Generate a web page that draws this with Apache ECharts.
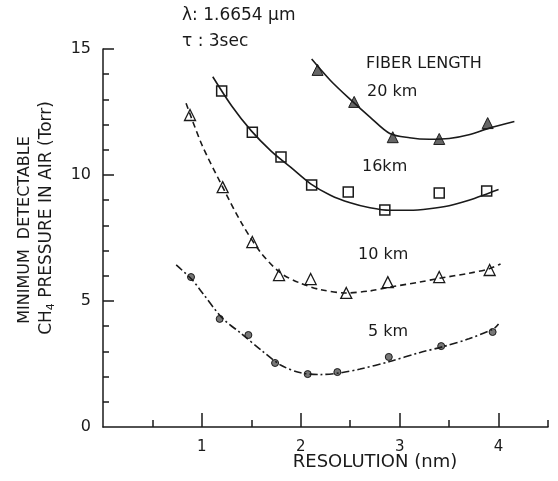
<!DOCTYPE html>
<html>
<head>
<meta charset="utf-8">
<script src="https://cdn.jsdelivr.net/npm/echarts@6/dist/echarts.min.js"></script>
<style>
  html, body { margin: 0; padding: 0; background: #fff; }
  #chart { width: 558px; height: 481px; }
</style>
</head>
<body>
<div id="chart"></div>
<script>
// measured points (resolution nm, pressure Torr)
const km20Points = [[2.17, 14.17], [2.54, 12.9], [2.93, 11.5], [3.40, 11.43], [3.89, 12.06]]
const km16Points = [[1.20, 13.33], [1.51, 11.7], [1.80, 10.71], [2.11, 9.6], [2.48, 9.33], [2.85, 8.61], [3.40, 9.29], [3.88, 9.37]]
const km10Points = [[0.88, 12.38], [1.21, 9.52], [1.51, 7.34], [1.78, 6.03], [2.10, 5.87], [2.46, 5.32], [2.88, 5.75], [3.40, 5.95], [3.91, 6.23]]
const km5Points = [[0.89, 5.95], [1.18, 4.29], [1.47, 3.65], [1.74, 2.54], [2.07, 2.10], [2.37, 2.18], [2.89, 2.78], [3.42, 3.21], [3.94, 3.77]]

// fitted curves
const km20Curve = [[2.11, 14.6], [2.3, 13.75], [2.5, 13.0], [2.7, 12.3], [2.9, 11.65], [3.1, 11.48], [3.3, 11.42], [3.5, 11.45], [3.7, 11.6], [3.9, 11.85], [4.16, 12.12]]
const km16Curve = [[1.11, 13.9], [1.3, 12.75], [1.5, 11.75], [1.7, 10.95], [1.9, 10.3], [2.1, 9.65], [2.3, 9.2], [2.5, 8.9], [2.7, 8.7], [2.9, 8.6], [3.1, 8.6], [3.3, 8.66], [3.5, 8.78], [3.7, 9.0], [3.9, 9.28], [4.0, 9.42]]
const km10Curve = [[0.84, 12.85], [1.0, 11.2], [1.2, 9.6], [1.4, 8.1], [1.6, 6.9], [1.8, 6.1], [2.0, 5.7], [2.2, 5.45], [2.46, 5.32], [2.7, 5.4], [2.9, 5.55], [3.2, 5.75], [3.4, 5.9], [3.7, 6.1], [3.9, 6.27], [4.02, 6.47]]
const km5Curve = [[0.74, 6.43], [0.9, 5.85], [1.0, 5.35], [1.2, 4.35], [1.4, 3.7], [1.6, 3.05], [1.8, 2.45], [2.0, 2.15], [2.2, 2.08], [2.4, 2.15], [2.6, 2.3], [2.9, 2.6], [3.2, 2.95], [3.45, 3.2], [3.7, 3.5], [3.95, 3.9], [4.0, 4.09]]

// ticks and labels
const xMajorTicks = [1, 2, 3, 4]
const xMinorTicks = [0.5, 1.5, 2.5, 3.5, 4.5]
const yMajorTicks = [5, 10, 15]
const yMinorTicks = [1, 2, 3, 4, 6, 7, 8, 9, 11, 12, 13, 14]
const yLabels = [0, 5, 10, 15]

const ink = '#1a1a1a'
const font = 'DejaVu Sans'

const chart = echarts.init(document.getElementById('chart'))

function curve(data, type) {
  return {
    type: 'line',
    data: data,
    smooth: 0.3,
    showSymbol: false,
    silent: true,
    lineStyle: { color: ink, width: 1.6, type: type }
  }
}

function points(data, symbol, size, fill, border) {
  return {
    type: 'scatter',
    data: data,
    symbol: symbol,
    symbolSize: size,
    itemStyle: { color: fill, borderColor: ink, borderWidth: border, opacity: 1 }
  }
}

function text(x, y, str, size, align, rotation) {
  return {
    type: 'text',
    x: x,
    y: y,
    rotation: rotation || 0,
    style: {
      text: str,
      fontSize: size,
      fontFamily: font,
      fill: ink,
      textAlign: align,
      align: align,
      textVerticalAlign: 'middle',
      verticalAlign: 'middle'
    }
  }
}

chart.setOption({
  animation: false,
  backgroundColor: '#fff',
  grid: { left: 103, right: 10, top: 49, bottom: 54, containLabel: false },
  xAxis: [
    {
      type: 'value',
      min: 0,
      max: 4.5,
      axisLine: { lineStyle: { color: ink, width: 1.5 } },
      axisTick: { inside: true, length: 14, customValues: xMajorTicks, lineStyle: { color: ink, width: 1.5 } },
      axisLabel: { customValues: xMajorTicks, color: ink, fontSize: 15, fontFamily: font, margin: 13 },
      splitLine: { show: false }
    },
    {
      type: 'value',
      min: 0,
      max: 4.5,
      position: 'bottom',
      axisLine: { show: false },
      axisTick: { inside: true, length: 7, customValues: xMinorTicks, lineStyle: { color: ink, width: 1.5 } },
      axisLabel: { show: false },
      splitLine: { show: false }
    }
  ],
  yAxis: [
    {
      type: 'value',
      min: 0,
      max: 15,
      axisLine: { show: true, lineStyle: { color: ink, width: 1.5 } },
      axisTick: { show: true, inside: true, length: 11, customValues: yMajorTicks, lineStyle: { color: ink, width: 1.5 } },
      axisLabel: { customValues: yLabels, color: ink, fontSize: 16, fontFamily: font, margin: 12 },
      splitLine: { show: false }
    },
    {
      type: 'value',
      min: 0,
      max: 15,
      position: 'left',
      axisLine: { show: false },
      axisTick: { show: true, inside: true, length: 6, customValues: yMinorTicks, lineStyle: { color: ink, width: 1.5 } },
      axisLabel: { show: false },
      splitLine: { show: false }
    }
  ],
  series: [
    curve(km20Curve, 'solid'),
    curve(km16Curve, 'solid'),
    curve(km10Curve, [6, 4]),
    curve(km5Curve, [8, 3, 2, 3]),
    points(km20Points, 'triangle', 11, '#666', 1),
    points(km16Points, 'rect', 10, '#fff', 1.5),
    points(km10Points, 'triangle', 11, '#fff', 1.3),
    points(km5Points, 'circle', 7, '#777', 1)
  ],
  graphic: [
    text(182, 16, 'λ: 1.6654 μm', 17, 'left'),
    text(182, 42, 'τ : 3sec', 17, 'left'),
    text(366, 64, 'FIBER LENGTH', 16, 'left'),
    text(367, 92, '20 km', 16, 'left'),
    text(362, 167, '16km', 16, 'left'),
    text(358, 255, '10 km', 16, 'left'),
    text(368, 332, '5 km', 16, 'left'),
    text(375, 462, 'RESOLUTION (nm)', 18, 'center'),
    text(25, 230, 'MINIMUM  DETECTABLE', 16, 'center', Math.PI / 2),
    {
      type: 'text',
      x: 47,
      y: 218,
      rotation: Math.PI / 2,
      style: {
        text: '{a|CH}{s|4}{a| PRESSURE IN AIR (Torr)}',
        fill: ink,
        textAlign: 'center',
        align: 'center',
        textVerticalAlign: 'middle',
        verticalAlign: 'middle',
        rich: {
          a: { fontSize: 17, fontFamily: font, fill: ink },
          s: { fontSize: 11, fontFamily: font, fill: ink, padding: [8, 0, 0, 0] }
        }
      }
    }
  ]
})
</script>
</body>
</html>
